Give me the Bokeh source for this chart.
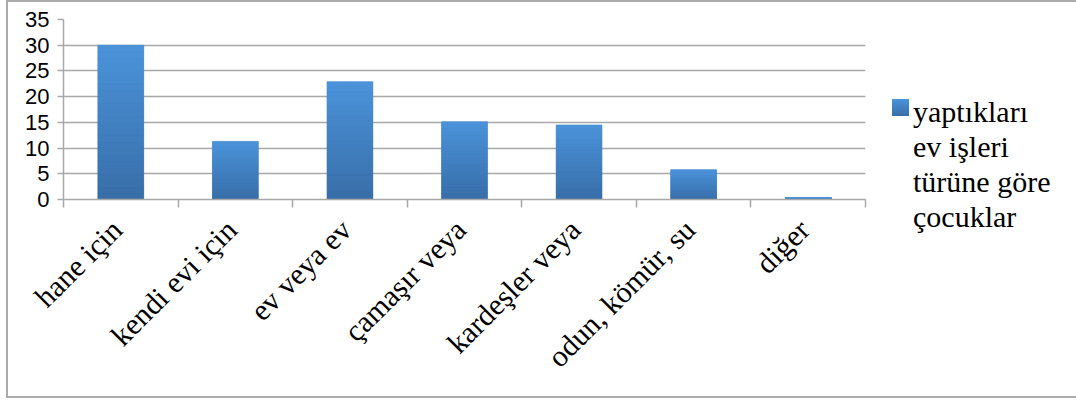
import math
from bokeh.plotting import figure
from bokeh.layouts import row
from bokeh.models import Range1d, FixedTicker, ColumnDataSource, Div
from bokeh.embed import file_html
from bokeh.resources import INLINE

# ---- data ----
categories = ["hane için", "kendi evi için", "ev veya ev", "çamaşır veya",
              "kardeşler veya", "odun, kömür, su", "diğer"]
values = [30, 11.3, 22.9, 15.1, 14.5, 5.8, 0.4]
y_ticks = [0, 5, 10, 15, 20, 25, 30, 35]
series_name = "yaptıkları\nev işleri\ntürüne göre\nçocuklar"

# ---- styling ----
TOP_RGB = (75, 147, 218)
BOT_RGB = (56, 110, 168)
MID = "#4382C6"
GRID = "#A8A8A8"
BORDER = "2px solid #ABABAB"
N_SLICES = 24
LABEL_SHIFT = -0.035

n = len(categories)
xs = [i + 0.5 for i in range(n)]
label_pos = [x + LABEL_SHIFT for x in xs]

p = figure(width=861, height=398, output_backend="svg", toolbar_location=None,
           x_range=Range1d(0, n), y_range=Range1d(0, y_ticks[-1]),
           min_border_left=55, min_border_top=17, min_border_right=4,
           min_border_bottom=201)
p.styles = {"border-left": BORDER, "border-top": BORDER,
            "border-bottom": BORDER, "margin-left": "6px"}
p.outline_line_color = None
p.background_fill_color = "white"
p.border_fill_color = "white"

# base bars
src = ColumnDataSource(dict(x=xs, top=values))
p.vbar(x="x", top="top", bottom=0, width=0.4, source=src,
       fill_color=MID, line_color=None)

# gradient slices derived from values
sx, sb, st, sc = [], [], [], []
for x, v in zip(xs, values):
    for k in range(N_SLICES):
        t = (k + 0.5) / N_SLICES
        r = round(BOT_RGB[0] + (TOP_RGB[0] - BOT_RGB[0]) * t)
        g = round(BOT_RGB[1] + (TOP_RGB[1] - BOT_RGB[1]) * t)
        b = round(BOT_RGB[2] + (TOP_RGB[2] - BOT_RGB[2]) * t)
        sx.append(x)
        sb.append(v * k / N_SLICES)
        st.append(v * (k + 1) / N_SLICES)
        sc.append("#%02x%02x%02x" % (r, g, b))
ssrc = ColumnDataSource(dict(x=sx, bottom=sb, top=st, color=sc))
p.vbar(x="x", bottom="bottom", top="top", width=0.4, source=ssrc,
       fill_color="color", line_color="color", line_width=0.6)

# grid
p.xgrid.grid_line_color = None
p.ygrid.ticker = FixedTicker(ticks=y_ticks)
p.ygrid.grid_line_color = GRID
p.ygrid.grid_line_width = 1.5

# y axis
ya = p.yaxis[0]
ya.ticker = FixedTicker(ticks=y_ticks)
ya.axis_line_color = GRID
ya.axis_line_width = 1.5
ya.major_tick_line_color = GRID
ya.major_tick_line_width = 1.5
ya.major_tick_out = 6
ya.major_tick_in = 0
ya.minor_tick_line_color = None
ya.major_label_standoff = 8
ya.major_label_text_font = "Liberation Sans"
ya.major_label_text_font_size = "22px"
ya.major_label_text_color = "black"

# x axis
xa = p.xaxis[0]
xa.ticker = FixedTicker(ticks=label_pos, minor_ticks=list(range(n + 1)))
xa.major_label_overrides = {x: c for x, c in zip(label_pos, categories)}
xa.major_label_orientation = math.pi / 4
xa.axis_line_color = GRID
xa.axis_line_width = 1.5
xa.major_tick_line_color = None
xa.minor_tick_line_color = GRID
xa.minor_tick_line_width = 1.5
xa.minor_tick_out = 8
xa.minor_tick_in = 0
xa.major_label_standoff = 17
xa.major_label_text_font = "Liberation Serif"
xa.major_label_text_font_size = "30px"
xa.major_label_text_color = "black"

# ---- legend panel ----
legend_lines = "<br>".join(series_name.split("\n"))
legend_html = (
    '<div style="position:relative;width:0px;height:0px;overflow:visible;">'
    '<div style="position:absolute;left:25px;top:97px;width:17px;height:17px;'
    'background:linear-gradient(#4B93DA,#386EA8);"></div>'
    '<div style="position:absolute;left:46px;top:92px;'
    'font-family:Liberation Serif,serif;'
    'font-size:30px;line-height:35px;'
    f'color:black;white-space:nowrap;">{legend_lines}</div>'
    '</div>'
)
legend_div = Div(text=legend_html, width=209, height=398, margin=0,
                 styles={"border-top": BORDER, "border-bottom": BORDER,
                         "border-left": "none", "border-right": "none",
                         "background": "white", "box-sizing": "border-box",
                         "overflow": "visible", "padding": "0px",
                         "font-size": "0px", "line-height": "0px"})

layout = row(p, legend_div, spacing=0)
open("out.html", "w").write(file_html(layout, INLINE))
